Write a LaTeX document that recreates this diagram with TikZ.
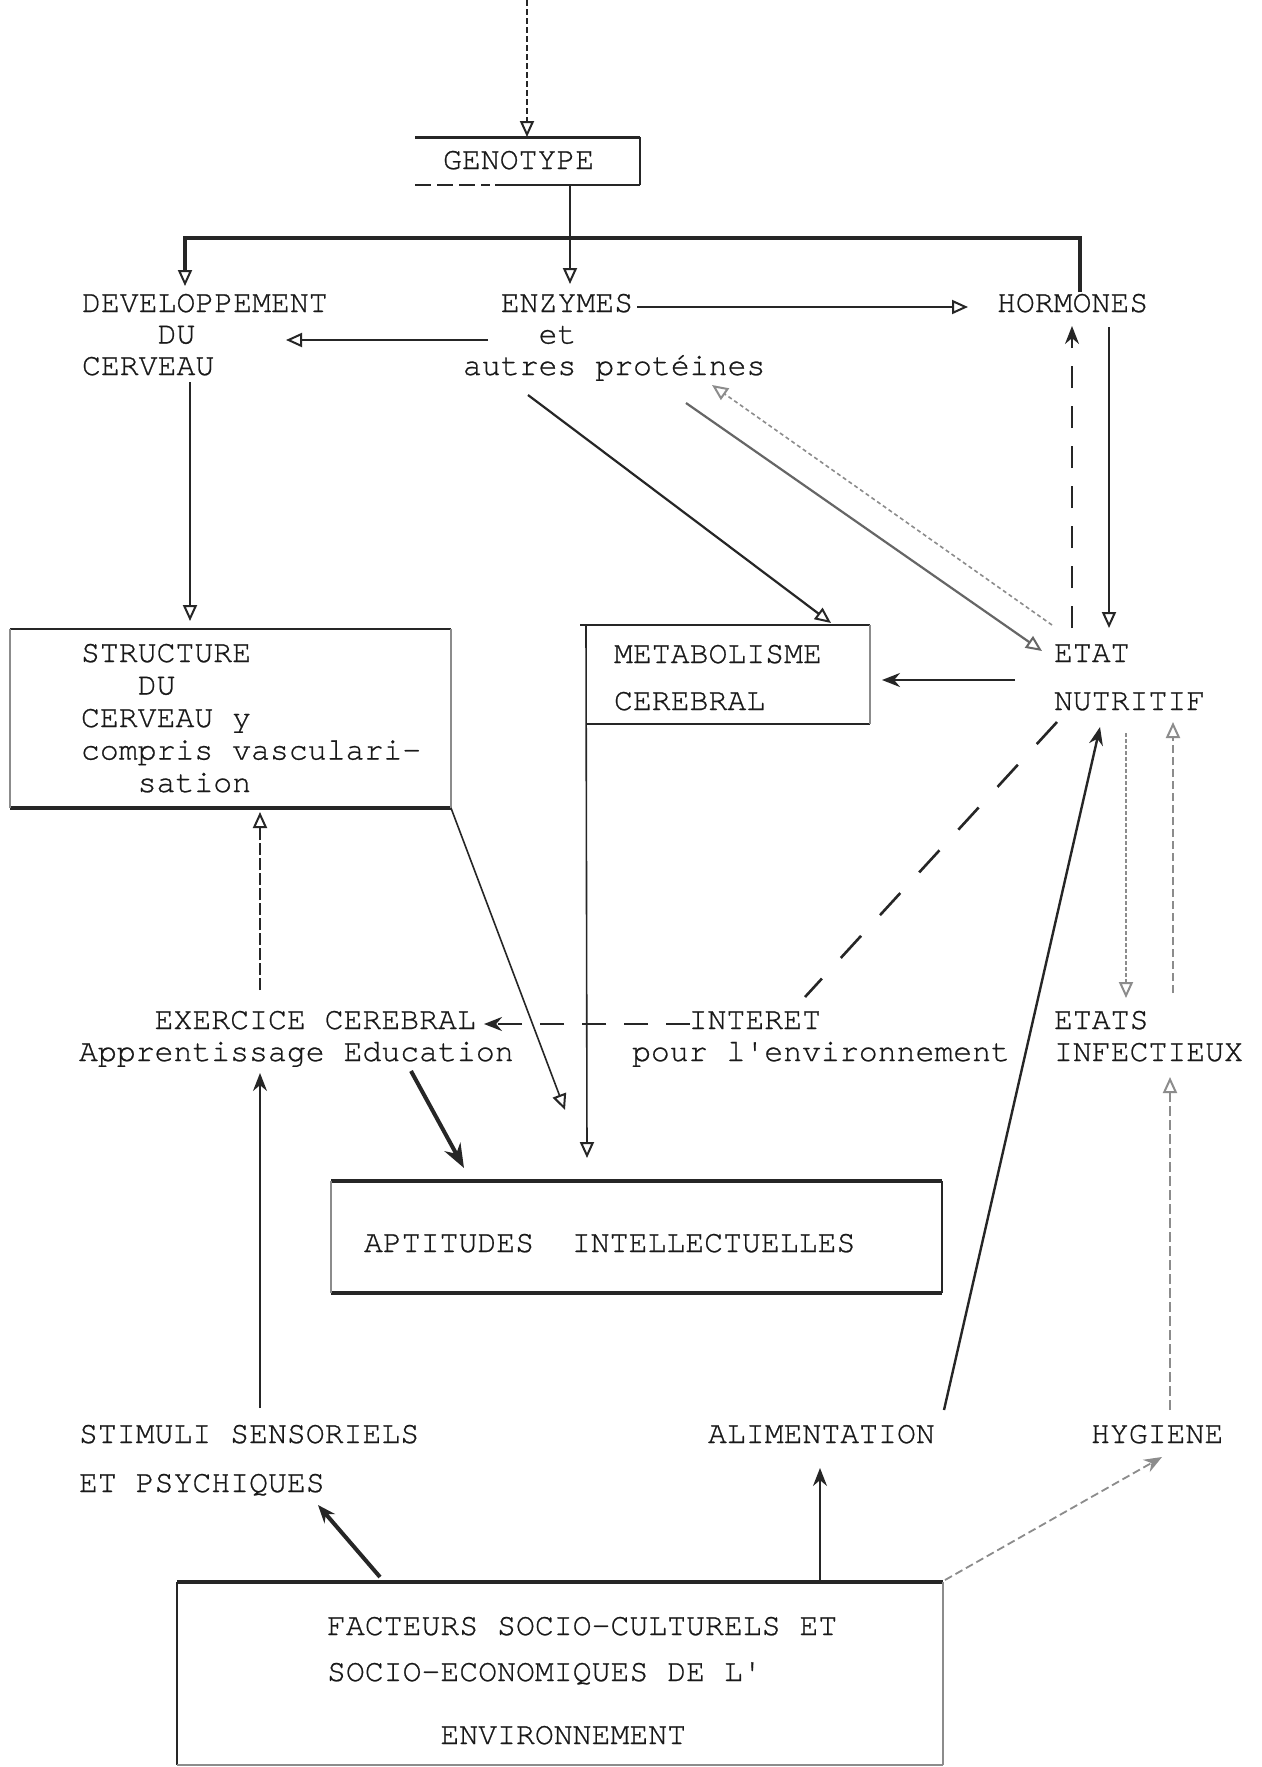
\documentclass[tikz,border=0pt]{standalone}
\usepackage{fontspec}
\setmonofont{TeX Gyre Cursor}[FakeBold=0.7]
\usetikzlibrary{arrows.meta,fit}
\newcommand\mlines[2]{\vtop{\baselineskip=#1\relax\lineskiplimit=-\maxdimen\lineskip=0pt\halign{##\hfil\cr#2\crcr}}}
\newcommand\ind[1]{\kern#1\fontcharwd\font`M\relax}
\begin{document}
\begin{tikzpicture}[x=0.5pt,y=-0.5pt,
  txt/.style={inner sep=0pt, outer sep=0pt, anchor=base west, text=black!90,
              font=\ttfamily\fontsize{15.75pt}{16pt}\selectfont},
  boxn/.style={inner sep=0pt, outer sep=0pt, draw=none},
  ink/.style={draw=black!85},
  pale/.style={draw=black!45},
  oh/.style={-{Triangle[open,length=8pt,width=7pt,line width=1pt]}},
  fh/.style={-{Stealth[length=9pt,width=7pt]}},
  bigfh/.style={-{Stealth[length=12pt,width=9pt]}}]
\useasboundingbox (0,0) rectangle (1262,1767);
\fill[white] (0,0) rectangle (1262,1767);

% ---------- boxes ----------
\node[boxn, fit={(415,137) (640,185)}] (genobox) {};
\node[boxn, fit={(10,629) (451,808)}] (structbox) {};
\node[boxn, fit={(586,625) (870,724)}] (metabbox) {};
\node[boxn, fit={(331,1181) (942,1293)}] (aptbox) {};
\node[boxn, fit={(177,1582) (943,1765)}] (factbox) {};

\draw[ink, line width=1.5pt] (genobox.north west) -- (genobox.north east);
\draw[ink, line width=0.6pt] (genobox.north east) -- (genobox.south east);
\draw[ink, line width=1.3pt] (genobox.south east) -- ++(-145,0);
\draw[ink, line width=1.1pt, dash pattern=on 8pt off 3pt] (genobox.south west) -- ++(75,0);

\draw[ink, line width=1.1pt] (structbox.north west) -- (structbox.north east);
\draw[ink, line width=1.6pt] (structbox.south west) -- (structbox.south east);
\draw[pale, line width=0.6pt] (structbox.north west) -- (structbox.south west);
\draw[pale, line width=0.6pt] (structbox.north east) -- (structbox.south east);

\draw[ink, line width=1.4pt] ([xshift=-3pt]metabbox.north west) -- (metabbox.north east);
\draw[ink, line width=1.4pt] (metabbox.south west) -- (metabbox.south east);
\draw[pale, line width=0.6pt] (metabbox.north east) -- (metabbox.south east);

\draw[ink, line width=1.6pt] (aptbox.north west) -- (aptbox.north east);
\draw[ink, line width=1.6pt] (aptbox.south west) -- (aptbox.south east);
\draw[pale, line width=0.6pt] (aptbox.north west) -- (aptbox.south west);
\draw[ink, line width=0.7pt] (aptbox.north east) -- (aptbox.south east);

\draw[ink, line width=2pt] (factbox.north west) -- (factbox.north east);
\draw[ink, line width=0.7pt] (factbox.north west) -- (factbox.south west);
\draw[pale, line width=0.6pt] (factbox.north east) -- (factbox.south east);
\draw[pale, line width=0.7pt] (factbox.south west) -- (factbox.south east);

% ---------- texts ----------
\node[txt] (geno) at (443,169) {GENOTYPE};
\node[txt] (dev) at (82,312) {\mlines{15.75pt}{DEVELOPPEMENT\cr\ind{4}DU\cr CERVEAU}};
\node[txt] (enz) at (463,312) {\mlines{15.75pt}{\ind{2}ENZYMES\cr\ind{4}et\cr autres protéines}};
\node[txt] (horm) at (997,312) {HORMONES};
\node[txt] (struct) at (81,662) {\mlines{16.25pt}{STRUCTURE\cr\ind{3}DU\cr CERVEAU y\cr compris vasculari-\cr\ind{3}sation}};
\node[txt] (metab) at (614,663) {\mlines{23.5pt}{METABOLISME\cr CEREBRAL}};
\node[txt] (etat) at (1054,662) {\mlines{24pt}{ETAT\cr NUTRITIF}};
\node[txt] (exer) at (79,1029) {\mlines{16pt}{\ind{4}EXERCICE CEREBRAL\cr Apprentissage Education}};
\node[txt] (inter) at (632,1029) {\mlines{16pt}{\ind{3}INTERET\cr pour l'environnement}};
\node[txt] (etats) at (1054,1029) {\mlines{16pt}{ETATS\cr INFECTIEUX}};
\node[txt] (apt) at (364,1252) {APTITUDES\ind{2}INTELLECTUELLES};
\node[txt] (stim) at (79,1443) {\mlines{24.5pt}{STIMULI SENSORIELS\cr ET PSYCHIQUES}};
\node[txt] (alim) at (708,1443) {ALIMENTATION};
\node[txt] (hyg) at (1091,1443) {HYGIENE};
\node[txt] (fact) at (327,1635) {\mlines{23pt}{FACTEURS SOCIO-CULTURELS ET\cr SOCIO-ECONOMIQUES DE L'\cr\noalign{\vskip 8.5pt}\ind{6}ENVIRONNEMENT}};

% ---------- connector ends ----------
\coordinate (gsrc) at (527,0);
\coordinate (hormTop) at (1080,292);
\coordinate (devTop) at (185,286);
\coordinate (enzTop) at (570,284);
\coordinate (enzR) at (637,307);
\coordinate (hormL) at (968,307);
\coordinate (etL) at (488,340);
\coordinate (devR) at (286,340);
\coordinate (cervBot) at (190,382);
\coordinate (structTop) at (190,621);
\coordinate (enzDiag) at (528,395);
\coordinate (metabTop) at (831,623);
\coordinate (protA) at (686,403);
\coordinate (etatA) at (1042,651);
\coordinate (etatB) at (1052,625);
\coordinate (protB) at (712,385);
\coordinate (etatUpL) at (1072,628);
\coordinate (hormBotL) at (1072,326);
\coordinate (hormBotR) at (1109,327);
\coordinate (etatUpR) at (1109,628);
\coordinate (etatW) at (1015,680);
\coordinate (metabE) at (882,680);
\coordinate (nutrDash) at (1057,722);
\coordinate (interTop) at (805,997);
\coordinate (interL) at (690,1024);
\coordinate (exerR) at (484,1024);
\coordinate (nutrBot1) at (1126,733);
\coordinate (etatsTop1) at (1126,998);
\coordinate (etatsTop2) at (1173,993);
\coordinate (nutrBot2) at (1173,722);
\coordinate (aptTop1) at (565,1110);
\coordinate (aptTop2) at (587,1158);
\coordinate (exerBot) at (411,1071);
\coordinate (aptTop3) at (464,1168);
\coordinate (exerTop) at (260,990);
\coordinate (structBot) at (260,812);
\coordinate (stimTop) at (260,1408);
\coordinate (exerBot2) at (260,1073);
\coordinate (alimTop) at (944,1410);
\coordinate (nutrBot3) at (1100,727);
\coordinate (hygTop) at (1170,1410);
\coordinate (etatsBot) at (1170,1077);
\coordinate (factA) at (380,1577);
\coordinate (stimBot) at (318,1505);
\coordinate (alimBot) at (820,1468);
\coordinate (factC) at (945,1580);
\coordinate (hygBot) at (1162,1457);

% ---------- connectors ----------
\draw[ink, line width=0.6pt, dash pattern=on 3pt off 1.5pt, oh] (gsrc) -- (genobox.north -| gsrc) ;
\draw[ink, line width=0.7pt, oh] (genobox.south -| enzTop) -- (enzTop);
\draw[ink, line width=1.6pt, oh] (hormTop) -- (hormTop |- 0,238) -- (devTop |- 0,238) -- (devTop);
\draw[ink, line width=1.1pt, oh] (enzR) -- (hormL);
\draw[ink, line width=1.1pt, oh] (etL) -- (devR);
\draw[ink, line width=0.7pt, oh] (cervBot) -- (structTop);
\draw[ink, line width=1.1pt, oh] (enzDiag) -- (metabTop);
\draw[draw=black!60, line width=1.1pt, oh] (protA) -- (etatA);
\draw[pale, line width=0.8pt, dash pattern=on 2pt off 1.5pt, oh] (etatB) -- (protB);
\draw[ink, line width=0.8pt, dash pattern=on 11pt off 9pt, fh] (etatUpL) -- (hormBotL);
\draw[ink, line width=0.9pt, oh] (hormBotR) -- (etatUpR);
\draw[ink, line width=1.2pt, fh] (etatW) -- (metabE);
\draw[ink, line width=1.3pt, dash pattern=on 15pt off 14pt] (nutrDash) -- (interTop);
\draw[ink, line width=1.3pt, dash pattern=on 12pt off 9pt, fh] (interL) -- (exerR);
\draw[pale, line width=0.7pt, dash pattern=on 2pt off 1pt, oh] (nutrBot1) -- (etatsTop1);
\draw[pale, line width=0.7pt, dash pattern=on 4pt off 2pt, oh] (etatsTop2) -- (nutrBot2);
\draw[ink, line width=0.8pt, oh] (structbox.south east) -- (aptTop1);
\draw[ink, line width=0.8pt, oh] (metabbox.north west) -- (aptTop2);
\draw[ink, line width=2pt, bigfh] (exerBot) -- (aptTop3);
\draw[ink, line width=0.7pt, dash pattern=on 6pt off 1.5pt, oh] (exerTop) -- (structBot);
\draw[ink, line width=0.8pt, fh] (stimTop) -- (exerBot2);
\draw[ink, line width=1.2pt, fh] (alimTop) -- (nutrBot3);
\draw[pale, line width=0.7pt, dash pattern=on 5pt off 2pt, oh] (hygTop) -- (etatsBot);
\draw[ink, line width=2pt, fh] (factA) -- (stimBot);
\draw[ink, line width=0.7pt, fh] (factbox.north -| alimBot) -- (alimBot);
\draw[pale, line width=0.9pt, dash pattern=on 4pt off 2pt, fh] (factC) -- (hygBot);
\end{tikzpicture}
\end{document}
